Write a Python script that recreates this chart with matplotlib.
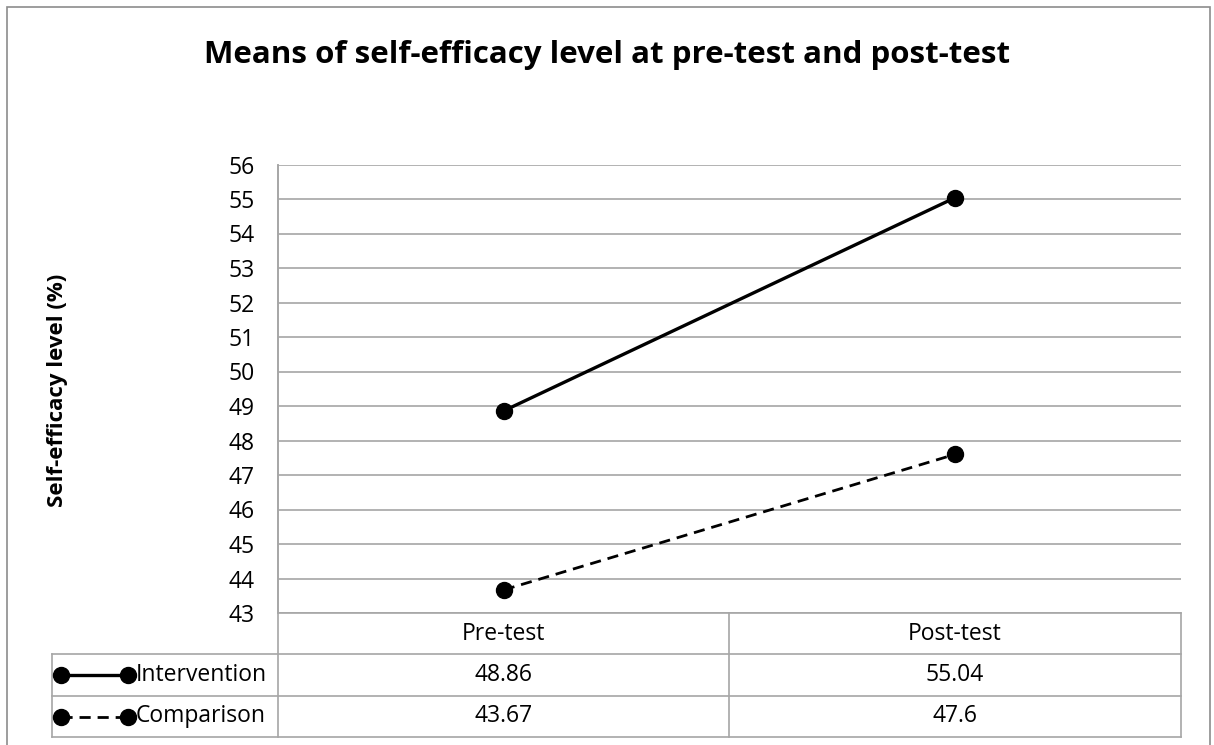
import matplotlib.pyplot as plt
from matplotlib.lines import Line2D
from matplotlib.patches import Rectangle

plt.rcParams['font.family'] = ['Open Sans', 'DejaVu Sans']

# data
categories = ['Pre-test', 'Post-test']
intervention = [48.86, 55.04]
comparison = [43.67, 47.6]
series_names = ['Intervention', 'Comparison']
y_ticks = list(range(43, 57))

W, H = 1214, 745
fig = plt.figure(figsize=(W / 100, H / 100), dpi=100)

def fx(px):
    return px / W

def fy(py):
    return 1 - py / H

grid_col = '#a6a6a6'
fs = 16.5
# outer chart border
fig.add_artist(Rectangle((fx(7), fy(760)), fx(1210) - fx(7), fy(7) - fy(760),
                         transform=fig.transFigure, fill=False, edgecolor='#8c8c8c', lw=1.2))

# plot area
left, right, top, bottom = 278, 1181, 164.5, 613
ax = fig.add_axes([fx(left), fy(bottom), fx(right) - fx(left), fy(top) - fy(bottom)])
x = [0.5, 1.5]
ax.plot(x, intervention, color='black', lw=2.4, marker='o', markersize=11.5, label=series_names[0])
ax.plot(x, comparison, color='black', lw=2.0, ls=(0, (4, 2.5)), marker='o', markersize=11.5,
        label=series_names[1])
ax.set_xlim(0, 2)
ax.set_ylim(43, 56)
ax.set_yticks(y_ticks)
ax.set_xticks([])
ax.tick_params(axis='y', length=0, labelsize=fs, pad=17)
ax.grid(axis='y', color=grid_col, lw=1.2)
ax.set_axisbelow(True)
for s in ['top', 'right', 'bottom']:
    ax.spines[s].set_visible(False)
ax.spines['left'].set_color(grid_col)
ax.spines['left'].set_linewidth(1.2)

fig.text(fx(58), fy(390), 'Self-efficacy level (%)', rotation=90, ha='center', va='center',
         fontsize=16, fontweight='bold')

# data table underneath, drawn in pixel coordinates
tab = fig.add_axes([0, 0, 1, 1], facecolor='none')
tab.set_xlim(0, W)
tab.set_ylim(H, 0)
tab.axis('off')
row_y = [613, 654, 696, 737]
col_x = [left, 729, right]
tab.plot([left, left], [top, row_y[-1]], color=grid_col, lw=1.2)
tab.plot([right, right], [row_y[0], row_y[-1]], color=grid_col, lw=1.2)
tab.plot([729, 729], [row_y[0], row_y[-1]], color=grid_col, lw=1.2)
tab.plot([52, 52], [row_y[1], row_y[-1]], color=grid_col, lw=1.2)
tab.plot([left, right], [row_y[0], row_y[0]], color=grid_col, lw=1.2)
for yy in row_y[1:]:
    tab.plot([52, right], [yy, yy], color=grid_col, lw=1.2)

centers = [(col_x[i] + col_x[i + 1]) / 2 for i in range(2)]
for cx, cat in zip(centers, categories):
    tab.text(cx, (row_y[0] + row_y[1]) / 2, cat, ha='center', va='center', fontsize=fs)

series_vals = [intervention, comparison]
styles = ['-', (0, (4, 2.5))]
for i, (name, vals) in enumerate(zip(series_names, series_vals)):
    yc = (row_y[i + 1] + row_y[i + 2]) / 2
    tab.add_line(Line2D([61, 128], [yc, yc], color='black', lw=2.4 if i == 0 else 2.0,
                        ls=styles[i], marker='o', markersize=11.5))
    tab.text(136, yc, name, ha='left', va='center', fontsize=fs)
    for cx, v in zip(centers, vals):
        tab.text(cx, yc, f'{v:g}', ha='center', va='center', fontsize=fs)

fig.text(fx(607), fy(55), 'Means of self-efficacy level at pre-test and post-test',
         ha='center', va='center', fontsize=22.5, fontweight='bold')

fig.savefig('out.png', dpi=100)
